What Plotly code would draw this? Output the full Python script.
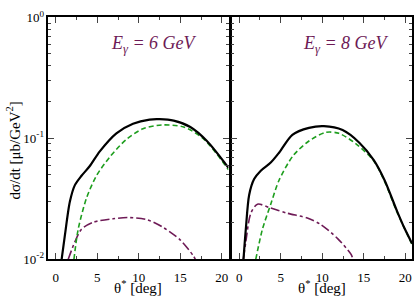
import plotly.graph_objects as go

# ---- data ----
black6_x = [0.71, 1.1, 1.7, 2.3, 3.1, 4.1, 5.3, 7.3, 9.3, 11.3, 12.5, 14.2, 16.2, 18.2, 20.8]
black6_y = [0.010, 0.0158, 0.030, 0.041, 0.049, 0.059, 0.078, 0.110, 0.132, 0.143, 0.144, 0.140, 0.124, 0.095, 0.057]
green6_x = [2.19, 2.7, 3.7, 4.9, 6.5, 8.5, 10.5, 12.75, 15.4, 17.8, 20.8]
green6_y = [0.010, 0.0177, 0.032, 0.049, 0.070, 0.098, 0.120, 0.129, 0.124, 0.099, 0.055]
purple6_x = [1.5, 2.3, 3.1, 4.5, 6.9, 8.9, 11.0, 13.0, 15.0, 16.55, 16.8]
purple6_y = [0.010, 0.0139, 0.0177, 0.0202, 0.0216, 0.0221, 0.0212, 0.0182, 0.0144, 0.0107, 0.010]

black8_x = [0.52, 0.8, 1.2, 1.8, 2.6, 3.8, 4.8, 6.4, 8.4, 10.2, 12.45, 14.46, 16.2, 17.5, 19.0, 19.9, 20.8]
black8_y = [0.010, 0.0177, 0.034, 0.046, 0.054, 0.063, 0.076, 0.107, 0.122, 0.126, 0.117, 0.092, 0.066, 0.045, 0.025, 0.018, 0.0135]
green8_x = [2.0, 2.8, 3.8, 4.8, 6.5, 8.4, 10.4, 12.0, 14.06, 16.2, 17.5, 19.0, 20.8]
green8_y = [0.010, 0.0177, 0.0285, 0.045, 0.072, 0.095, 0.112, 0.110, 0.090, 0.065, 0.044, 0.0245, 0.0133]
purple8_x = [0.5, 0.8, 1.4, 2.2, 3.8, 5.8, 8.2, 9.8, 11.85, 13.45, 13.7]
purple8_y = [0.010, 0.0139, 0.024, 0.0285, 0.0265, 0.024, 0.0219, 0.0194, 0.0148, 0.011, 0.010]

x_ticks = [0, 5, 10, 15, 20]
y_ticks = [0.01, 0.1, 1]
y_ticktext = ["10<sup>-2</sup>", "10<sup>-1</sup>", "10<sup>0</sup>"]
panel_labels = ["<i>E<sub>γ</sub> = 6 GeV</i>", "<i>E<sub>γ</sub> = 8 GeV</i>"]

BLACK = "#000000"
GREEN = "#1e9e1e"
PURPLE = "#6e1a56"
FONT = "Liberation Serif, Times New Roman, serif"

fig = go.Figure()

def add_panel(xa, ya, bx, by, gx, gy, px, py):
    fig.add_trace(go.Scatter(x=px, y=py, xaxis=xa, yaxis=ya, mode="lines",
                             line=dict(color=PURPLE, width=1.6, dash="dashdot", shape="spline", smoothing=0.8)))
    fig.add_trace(go.Scatter(x=gx, y=gy, xaxis=xa, yaxis=ya, mode="lines",
                             line=dict(color=GREEN, width=1.6, dash="5px,3px", shape="spline", smoothing=0.8)))
    fig.add_trace(go.Scatter(x=bx, y=by, xaxis=xa, yaxis=ya, mode="lines",
                             line=dict(color=BLACK, width=2.2, shape="spline", smoothing=0.8)))

add_panel("x", "y", black6_x, black6_y, green6_x, green6_y, purple6_x, purple6_y)
add_panel("x2", "y2", black8_x, black8_y, green8_x, green8_y, purple8_x, purple8_y)

minor_y = [m * 10 ** e for e in (-2, -1) for m in range(2, 10)]
minor_x = [2.5 + 5 * i for i in range(4)]

xcommon = dict(range=[-0.9, 20.8], tickvals=x_ticks, ticks="inside", ticklen=6, tickwidth=1,
               showline=True, linecolor="black", linewidth=1.5, mirror="allticks",
               showgrid=False, zeroline=False, ticklabelstandoff=5,
               tickfont=dict(family=FONT, size=13, color="black"),
               minor=dict(tickvals=minor_x, ticks="inside", ticklen=3, tickwidth=1, showgrid=False))
ycommon = dict(type="log", range=[-2, 0], tickvals=y_ticks, ticktext=y_ticktext, ticks="inside",
               ticklen=6, tickwidth=1, showline=True, linecolor="black", linewidth=1.5,
               mirror="allticks", showgrid=False, zeroline=False,
               tickfont=dict(family=FONT, size=13, color="black"),
               minor=dict(tickvals=minor_y, ticks="inside", ticklen=3, tickwidth=1, showgrid=False))

W, H = 415, 304
ybot, ytop = (H - 265) / H, (H - 9) / H
fig.update_layout(
    width=W, height=H, margin=dict(l=0, r=0, t=0, b=0),
    font=dict(family=FONT, color="black"),
    paper_bgcolor="white", plot_bgcolor="white", showlegend=False,
    xaxis=dict(domain=[48.3 / W, 228.5 / W], anchor="y", **xcommon),
    xaxis2=dict(domain=[231.7 / W, 412 / W], anchor="y2", **xcommon),
    yaxis=dict(domain=[ybot, ytop], anchor="x", **ycommon),
    yaxis2=dict(domain=[ybot, ytop], anchor="x2", showticklabels=False, **ycommon),
)

def anno(x, y, text, size, color, angle=0):
    return dict(x=x / W, y=(H - y) / H, xref="paper", yref="paper", text=text,
                xanchor="center", yanchor="middle", textangle=angle, showarrow=False,
                font=dict(family=FONT, size=size, color=color))

annos = [
    anno((48.3 + 228.5) / 2, 294, "θ<sup>*</sup> [deg]", 15, "black"),
    anno((231.7 + 412) / 2, 294, "θ<sup>*</sup> [deg]", 15, "black"),
    anno(154, 38, panel_labels[0], 18, PURPLE),
    anno(346, 38, panel_labels[1], 18, PURPLE),
    anno(13, 150, "dσ/dt [μb/GeV<sup>2</sup>]", 15, "black", -90),
]
fig.update_layout(annotations=annos)

fig.write_html("out.html", config={"displayModeBar": False},
               post_script="document.body.style.margin='0';document.body.style.padding='0';")
